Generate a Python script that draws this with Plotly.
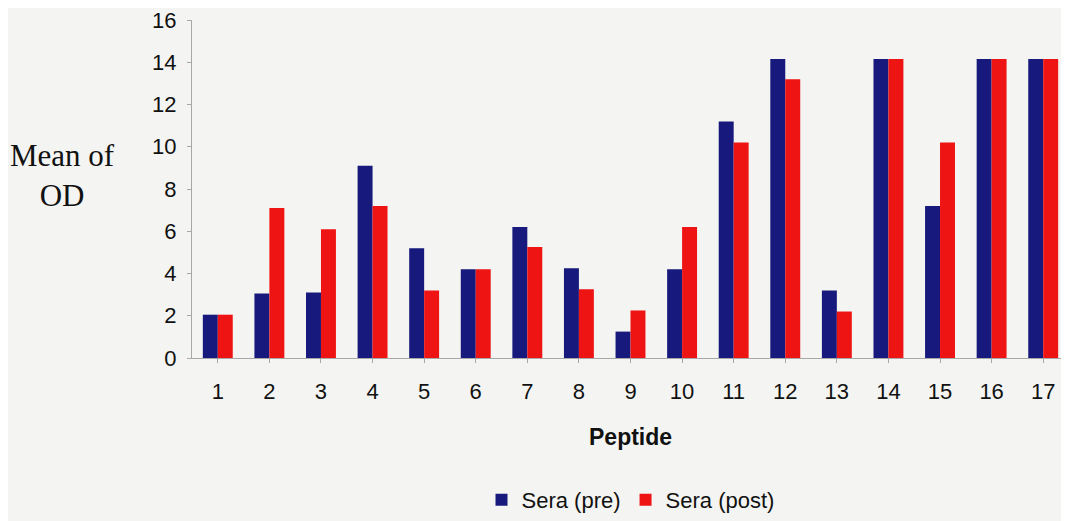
import plotly.graph_objects as go

peptides = [str(i) for i in range(1, 18)]
sera_pre = [2.05, 3.05, 3.1, 9.1, 5.2, 4.2, 6.2, 4.25, 1.25, 4.2, 11.2, 14.15, 3.2, 14.15, 7.2, 14.15, 14.15]
sera_post = [2.05, 7.1, 6.1, 7.2, 3.2, 4.2, 5.25, 3.25, 2.25, 6.2, 10.2, 13.2, 2.2, 14.15, 10.2, 14.15, 14.15]

bg = "#f4f5f2"
sans = "Liberation Sans, Arial, sans-serif"
fig = go.Figure()
fig.add_trace(go.Bar(x=peptides, y=sera_pre, name="Sera (pre)", marker=dict(color="#171a7c", line=dict(width=0))))
fig.add_trace(go.Bar(x=peptides, y=sera_post, name="Sera (post)", marker=dict(color="#ee1414", line=dict(width=0))))

fig.update_layout(
    width=1061, height=513,
    margin=dict(l=184, r=0, t=9, b=161),
    paper_bgcolor=bg, plot_bgcolor=bg,
    barmode="group", bargap=0.42, bargroupgap=0,
    font=dict(family=sans, size=22, color="#111"),
    showlegend=True,
    legend=dict(orientation="h", x=0.5, xanchor="center", y=-0.42, yanchor="middle",
                font=dict(size=22), bgcolor="rgba(0,0,0,0)", itemwidth=30, tracegroupgap=0),
    xaxis=dict(range=[-0.5, 16.5], showgrid=False, showline=True, linecolor="#a8a8a8", linewidth=1,
               ticks="outside", ticklen=4, tickcolor="#a8a8a8", tickfont=dict(size=22),
               ticklabelstandoff=10, ticklabeloverflow="allow"),
    yaxis=dict(range=[0, 16], dtick=2, showgrid=False, showline=True, linecolor="#a8a8a8", linewidth=1,
               ticks="outside", ticklen=4, tickcolor="#a8a8a8", tickfont=dict(size=22), zeroline=False,
               ticklabelstandoff=6, ticklabeloverflow="allow"),
    annotations=[
        dict(text="Peptide", x=0.5, y=-0.233, xref="paper", yref="paper", showarrow=False,
             font=dict(size=23, family=sans, weight="bold"), xanchor="center", yanchor="middle"),
        dict(text="Mean of<br>OD", x=-0.148, y=0.539, xref="paper", yref="paper", showarrow=False,
             font=dict(size=31, family="Liberation Serif, Times New Roman, serif", color="#111"),
             align="center", xanchor="center", yanchor="middle"),
    ],
)
fig.write_html("out.html")
